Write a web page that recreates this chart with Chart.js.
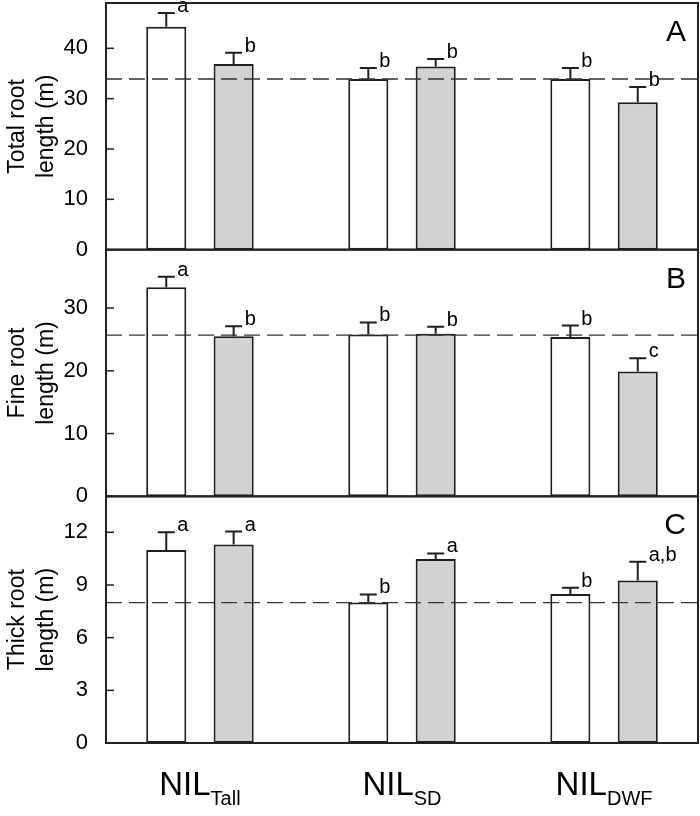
<!DOCTYPE html>
<html>
<head>
<meta charset="utf-8">
<script src="https://cdn.jsdelivr.net/npm/chart.js@4.4.1/dist/chart.umd.min.js"></script>
<style>
  html, body { margin: 0; padding: 0; background: #fff; }
  #wrap { width: 700px; height: 816px; }
</style>
</head>
<body>
<div id="wrap"><canvas id="rootChart" width="700" height="816"></canvas></div>
<script>
const groupMain = ["NIL", "NIL", "NIL"];
const groupSub = ["Tall", "SD", "DWF"];

const panelTags = ["A", "B", "C"];

// A: total root length (m)
const totalTitle = ["Total root", "length (m)"];
const totalWhite = [44.3, 33.9, 33.9];
const totalWhiteSE = [2.7, 2.2, 2.2];
const totalGray = [36.9, 36.4, 29.3];
const totalGraySE = [2.2, 1.5, 3.0];
const totalWhiteLetters = ["a", "b", "b"];
const totalGrayLetters = ["b", "b", "b"];
const totalRef = 33.9;
const totalTicks = [0, 10, 20, 30, 40];
const totalMax = 49;

// B: fine root length (m)
const fineTitle = ["Fine root", "length (m)"];
const fineWhite = [33.3, 25.8, 25.4];
const fineWhiteSE = [1.7, 1.9, 1.8];
const fineGray = [25.5, 25.9, 19.9];
const fineGraySE = [1.6, 1.1, 2.1];
const fineWhiteLetters = ["a", "b", "b"];
const fineGrayLetters = ["b", "b", "c"];
const fineRef = 25.7;
const fineTicks = [0, 10, 20, 30];
const fineMax = 39.3;

// C: thick root length (m)
const thickTitle = ["Thick root", "length (m)"];
const thickWhite = [11.0, 8.0, 8.48];
const thickWhiteSE = [1.0, 0.46, 0.36];
const thickGray = [11.3, 10.48, 9.26];
const thickGraySE = [0.74, 0.32, 1.07];
const thickWhiteLetters = ["a", "b", "b"];
const thickGrayLetters = ["a", "a", "a,b"];
const thickRef = 8.0;
const thickTicks = [0, 3, 6, 9, 12];
const thickMax = 14.05;

const FONT = "'Liberation Sans', Arial, sans-serif";
const INK = "#1e1e1e";
const GRAY_FILL = "#d1d2d4";

const panels = [
  { axis: "yA", title: totalTitle, white: totalWhite, whiteSE: totalWhiteSE, gray: totalGray, graySE: totalGraySE,
    whiteLetters: totalWhiteLetters, grayLetters: totalGrayLetters, ref: totalRef, ticks: totalTicks, max: totalMax },
  { axis: "yB", title: fineTitle, white: fineWhite, whiteSE: fineWhiteSE, gray: fineGray, graySE: fineGraySE,
    whiteLetters: fineWhiteLetters, grayLetters: fineGrayLetters, ref: fineRef, ticks: fineTicks, max: fineMax },
  { axis: "yC", title: thickTitle, white: thickWhite, whiteSE: thickWhiteSE, gray: thickGray, graySE: thickGraySE,
    whiteLetters: thickWhiteLetters, grayLetters: thickGrayLetters, ref: thickRef, ticks: thickTicks, max: thickMax }
];

function barSet(values, axis, fill, stack) {
  return {
    data: values.map((v, i) => ({ x: i, y: v })),
    yAxisID: axis,
    stack: stack,
    backgroundColor: fill,
    borderColor: INK,
    borderWidth: 2,
    borderSkipped: false,
    categoryPercentage: 0.667,
    barPercentage: 0.595
  };
}

const datasets = [];
panels.forEach((p) => {
  datasets.push(barSet(p.white, p.axis, "#ffffff", "white"));
  datasets.push(barSet(p.gray, p.axis, GRAY_FILL, "gray"));
});

function yScale(p, weight) {
  return {
    type: "linear",
    position: "left",
    stack: "panels",
    stackWeight: 1,
    weight: weight,
    stacked: false,
    min: 0,
    max: p.max,
    afterBuildTicks: (s) => { s.ticks = p.ticks.map((v) => ({ value: v })); },
    afterFit: (s) => {
      s.width = 106;
      s.paddingTop = 0;
      s.paddingBottom = 0;
    },
    grid: { display: false },
    border: { display: false },
    ticks: { padding: 10, color: "#000", font: { family: FONT, size: 22 } },
    title: {
      display: true,
      text: p.title,
      color: "#000",
      font: { family: FONT, size: 23, lineHeight: 1.26 },
      padding: { top: 3, bottom: 0 }
    }
  };
}

const panelExtras = {
  id: "panelExtras",
  afterDatasetsDraw(chart) {
    const ctx = chart.ctx;
    const area = chart.chartArea;
    const xs = chart.scales.x;
    ctx.save();

    panels.forEach((p, pi) => {
      const ys = chart.scales[p.axis];
      const seSets = [p.whiteSE, p.graySE];
      const letterSets = [p.whiteLetters, p.grayLetters];
      const valueSets = [p.white, p.gray];

      // error bars (upper only) and significance letters
      [0, 1].forEach((k) => {
        const meta = chart.getDatasetMeta(pi * 2 + k);
        meta.data.forEach((bar, i) => {
          const top = ys.getPixelForValue(valueSets[k][i] + seSets[k][i]);
          ctx.strokeStyle = INK;
          ctx.lineWidth = 2;
          ctx.setLineDash([]);
          ctx.beginPath();
          ctx.moveTo(bar.x, bar.y);
          ctx.lineTo(bar.x, top);
          ctx.moveTo(bar.x - 8.5, top);
          ctx.lineTo(bar.x + 8.5, top);
          ctx.stroke();

          ctx.fillStyle = "#000";
          ctx.font = "20px " + FONT;
          ctx.textAlign = "left";
          ctx.textBaseline = "alphabetic";
          ctx.fillText(letterSets[k][i], bar.x + 11, top - 1);
        });
      });

      // dashed reference line
      const ry = ys.getPixelForValue(p.ref);
      ctx.strokeStyle = "#333";
      ctx.lineWidth = 1.3;
      ctx.setLineDash([16, 7]);
      ctx.beginPath();
      ctx.moveTo(area.left, ry);
      ctx.lineTo(area.right, ry);
      ctx.stroke();
      ctx.setLineDash([]);

      // frame
      ctx.strokeStyle = "#222";
      ctx.lineWidth = 2;
      ctx.strokeRect(area.left, ys.top, area.right - area.left, ys.bottom - ys.top);

      // inward tick marks
      ctx.lineWidth = 1.5;
      ys.ticks.forEach((t) => {
        const ty = ys.getPixelForValue(t.value);
        ctx.beginPath();
        ctx.moveTo(area.left, ty);
        ctx.lineTo(area.left + 8, ty);
        ctx.stroke();
      });

      // panel tag
      ctx.fillStyle = "#000";
      ctx.font = "30px " + FONT;
      ctx.textAlign = "right";
      ctx.textBaseline = "alphabetic";
      ctx.fillText(panelTags[pi], area.right - 12, ys.top + 38);
    });

    // group labels with subscripts
    groupMain.forEach((main, i) => {
      const cx = xs.getPixelForValue(i);
      ctx.font = "33px " + FONT;
      const wMain = ctx.measureText(main).width;
      ctx.font = "20px " + FONT;
      const wSub = ctx.measureText(groupSub[i]).width;
      const x0 = cx - (wMain + wSub) / 2;
      ctx.fillStyle = "#000";
      ctx.textAlign = "left";
      ctx.textBaseline = "alphabetic";
      ctx.font = "33px " + FONT;
      ctx.fillText(main, x0, area.bottom + 52);
      ctx.font = "20px " + FONT;
      ctx.fillText(groupSub[i], x0 + wMain, area.bottom + 62);
    });

    ctx.restore();
  }
};

new Chart(document.getElementById("rootChart"), {
  type: "bar",
  data: { datasets: datasets },
  options: {
    responsive: false,
    animation: false,
    events: [],
    layout: { padding: { top: 3, right: 2, bottom: 73, left: 0 } },
    plugins: { legend: { display: false }, tooltip: { enabled: false }, title: { display: false } },
    scales: {
      x: {
        type: "linear",
        display: false,
        offset: false,
        min: -0.465,
        max: 2.465,
        afterBuildTicks: (s) => { s.ticks = groupMain.map((_, i) => ({ value: i })); }
      },
      yA: yScale(panels[0], 3),
      yB: yScale(panels[1], 2),
      yC: yScale(panels[2], 1)
    }
  },
  plugins: [panelExtras]
});
</script>
</body>
</html>
